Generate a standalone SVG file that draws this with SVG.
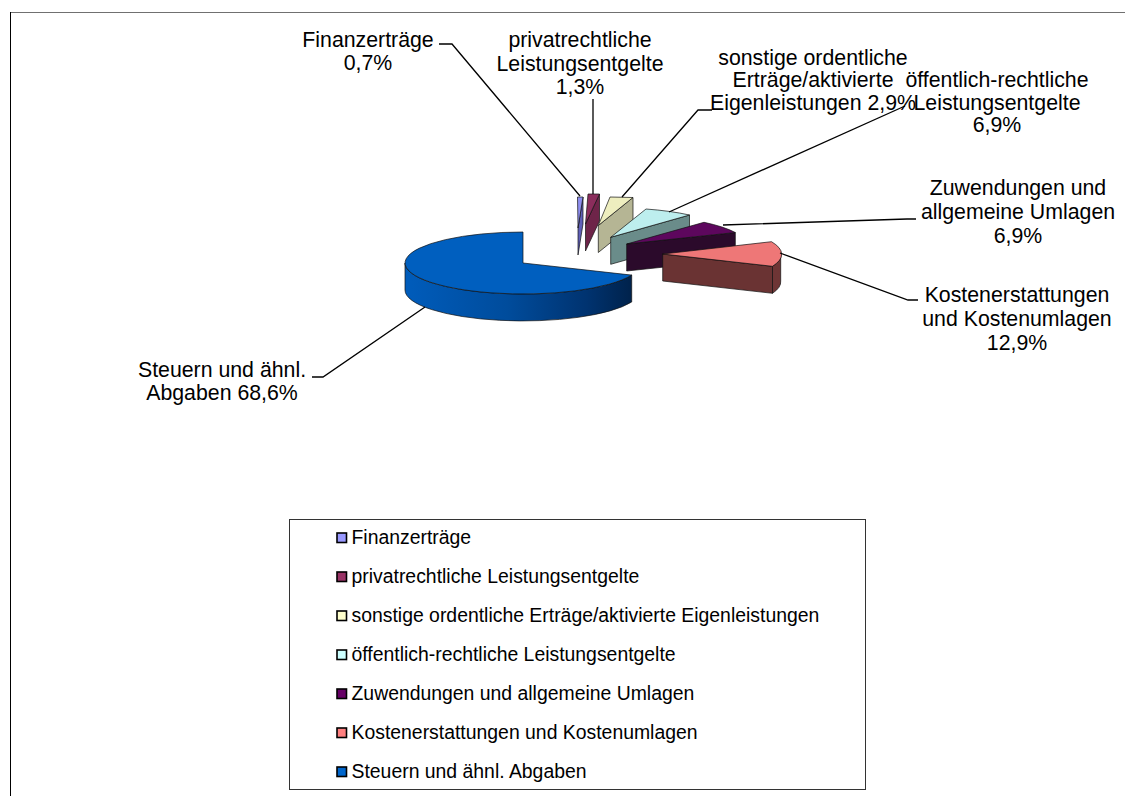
<svg xmlns="http://www.w3.org/2000/svg" width="1125" height="796" viewBox="0 0 1125 796">
<defs>
<style>
.lbl{font-family:"Liberation Sans",Arial,Helvetica,sans-serif;font-size:21.3px;fill:#000;text-anchor:middle}
.leg{font-family:"Liberation Sans",Arial,Helvetica,sans-serif;font-size:19.4px;fill:#000}
.ld{fill:none;stroke:#000;stroke-width:1.3}
.sl{stroke:#111;stroke-width:0.7;stroke-linejoin:round}
.sq{stroke:#000;stroke-width:1.6}
</style>
<linearGradient id="blueSide" x1="405" y1="0" x2="632" y2="0" gradientUnits="userSpaceOnUse">
<stop offset="0" stop-color="#005cbb"/>
<stop offset="0.45" stop-color="#004c9c"/>
<stop offset="0.8" stop-color="#003370"/>
<stop offset="1" stop-color="#00224b"/>
</linearGradient>
</defs>
<rect width="1125" height="796" fill="#fff"/>
<line x1="10.5" y1="12.5" x2="1125" y2="12.5" stroke="#707070" stroke-width="1"/>
<line x1="10.5" y1="12" x2="10.5" y2="796" stroke="#000" stroke-width="1"/>

<g id="slice-finanz">
<path class="sl" d="M583,197 L583,224 L578,255 L578,228 Z" fill="#6060b8"/>
<path class="sl" d="M578,228 L577.5,197 L583,197 Z" fill="#8e8ef0"/>
</g>
<g id="slice-privat">
<path class="sl" d="M599.5,194 L599.5,221 L585.5,251 L585.5,224 Z" fill="#6e2449"/>
<path class="sl" d="M585.5,224 L588,194 L599.5,194 Z" fill="#8b2d5c"/>
</g>
<g id="slice-sonstige">
<path class="sl" d="M633,197.5 L633,224.5 L598.3,252.5 L598.3,225.5 Z" fill="#b5b594"/>
<path class="sl" d="M598.3,225.5 L610,197 L633,197.5 Z" fill="#eeeebf"/>
</g>
<g id="slice-oeffentlich">
<path class="sl" d="M689.5,215 L689.5,242 L610.7,264.3 L610.7,237.3 Z" fill="#6a8c8a"/>
<path class="sl" d="M610.7,237.3 L646,209 A118,31 0 0,1 689.5,215 Z" fill="#bdeeee"/>
</g>
<g id="slice-zuwendungen">
<path class="sl" d="M735.3,232.5 L735.3,259.5 L626.7,271 L626.7,244 Z" fill="#2b0a2b"/>
<path class="sl" d="M626.7,244 L704,222.3 A118,31 0 0,1 735.3,232.5 Z" fill="#5d075d"/>
</g>
<g id="slice-kosten">
<path class="sl" d="M772.5,266.3 L772.5,293.3 L662.7,281 L662.7,254 Z" fill="#6a3333"/>
<path class="sl" d="M780.7,254 A118,31 0 0,1 772.5,266.3 L772.5,293.3 A118,31 0 0,0 780.7,281 Z" fill="#6e3535"/>
<path class="sl" d="M662.7,254 L771.5,241.7 A118,31 0 0,1 772.5,266.3 Z" fill="#ee7777"/>
</g>
<g id="slice-steuern">
<path class="sl" d="M405,263 A118,31 0 0,0 631.7,275.1 L631.7,302 A118,31 0 0,1 405,290 Z" fill="url(#blueSide)"/>
<path class="sl" d="M523,263 L523,232 A118,31 0 1,0 631.7,275.1 Z" fill="#005fbf"/>
</g>

<g id="connectors">
<path class="ld" d="M439,44 H452 L580,196"/>
<path class="ld" d="M593,99 V194"/>
<path class="ld" d="M712,110 H698 L622,197"/>
<path class="ld" d="M905,106 L669,212"/>
<path class="ld" d="M916,219 H907 L723,225"/>
<path class="ld" d="M780,253 L908,300 H918"/>
<path class="ld" d="M312,377 H323 L425,307"/>
</g>

<g id="label-finanz">
<text class="lbl" x="368" y="47">Finanzerträge</text>
<text class="lbl" x="368" y="70">0,7%</text>
</g>
<g id="label-privat">
<text class="lbl" x="580" y="47">privatrechtliche</text>
<text class="lbl" x="580" y="70.5">Leistungsentgelte</text>
<text class="lbl" x="580" y="94">1,3%</text>
</g>
<g id="label-sonstige">
<text class="lbl" x="813" y="64.5">sonstige ordentliche</text>
<text class="lbl" x="813" y="87">Erträge/aktivierte</text>
<text class="lbl" x="813" y="109.5">Eigenleistungen 2,9%</text>
</g>
<g id="label-oeffentlich">
<text class="lbl" x="997" y="87">öffentlich-rechtliche</text>
<text class="lbl" x="997" y="109.5">Leistungsentgelte</text>
<text class="lbl" x="997" y="132">6,9%</text>
</g>
<g id="label-zuwendungen">
<text class="lbl" x="1018" y="195">Zuwendungen und</text>
<text class="lbl" x="1018" y="219">allgemeine Umlagen</text>
<text class="lbl" x="1018" y="243">6,9%</text>
</g>
<g id="label-kosten">
<text class="lbl" x="1017" y="302">Kostenerstattungen</text>
<text class="lbl" x="1017" y="326">und Kostenumlagen</text>
<text class="lbl" x="1017" y="350">12,9%</text>
</g>
<g id="label-steuern">
<text class="lbl" x="222" y="377">Steuern und ähnl.</text>
<text class="lbl" x="222" y="400">Abgaben 68,6%</text>
</g>

<g id="legend">
<rect x="289.5" y="519.5" width="576" height="270" fill="#fff" stroke="#333" stroke-width="1"/>
<rect class="sq" x="337" y="533" width="9.5" height="9.5" fill="#9999ff"/>
<text class="leg" x="351.5" y="544">Finanzerträge</text>
<rect class="sq" x="337" y="572" width="9.5" height="9.5" fill="#993366"/>
<text class="leg" x="351.5" y="583">privatrechtliche Leistungsentgelte</text>
<rect class="sq" x="337" y="611" width="9.5" height="9.5" fill="#ffffcc"/>
<text class="leg" x="351.5" y="622">sonstige ordentliche Erträge/aktivierte Eigenleistungen</text>
<rect class="sq" x="337" y="650" width="9.5" height="9.5" fill="#ccffff"/>
<text class="leg" x="351.5" y="661">öffentlich-rechtliche Leistungsentgelte</text>
<rect class="sq" x="337" y="689" width="9.5" height="9.5" fill="#660066"/>
<text class="leg" x="351.5" y="700">Zuwendungen und allgemeine Umlagen</text>
<rect class="sq" x="337" y="728" width="9.5" height="9.5" fill="#ff8080"/>
<text class="leg" x="351.5" y="739">Kostenerstattungen und Kostenumlagen</text>
<rect class="sq" x="337" y="767" width="9.5" height="9.5" fill="#0066cc"/>
<text class="leg" x="351.5" y="778">Steuern und ähnl. Abgaben</text>
</g>
</svg>
